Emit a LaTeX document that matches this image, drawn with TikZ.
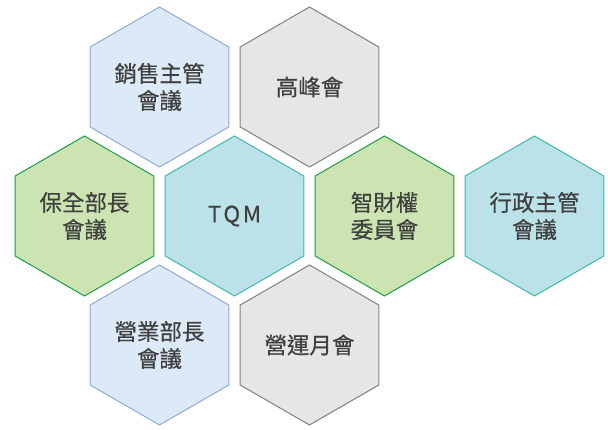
\documentclass[tikz,border=0pt]{standalone}
\usepackage{fontspec}
\setmainfont[FakeBold=0.6]{Noto Sans CJK TC}
\usetikzlibrary{shapes.geometric}

\definecolor{bluefill}{HTML}{DCE9F6}
\definecolor{blueline}{HTML}{8FAADC}
\definecolor{grayfill}{HTML}{E5E6E6}
\definecolor{grayline}{HTML}{808080}
\definecolor{greenfill}{HTML}{CCE4B2}
\definecolor{greenline}{HTML}{1E9B48}
\definecolor{tealfill}{HTML}{BBE2E8}
\definecolor{tealline}{HTML}{40B8AC}
\definecolor{textgray}{HTML}{404040}

\tikzset{
  hexa/.style={regular polygon, regular polygon sides=6, shape border rotate=30,
    minimum size=160pt, inner sep=0pt, outer sep=0pt, line width=1pt,
    align=center, text=textgray, font=\fontsize{22.5}{27}\selectfont},
  bluehex/.style={hexa, draw=blueline, fill=bluefill},
  grayhex/.style={hexa, draw=grayline, fill=grayfill},
  greenhex/.style={hexa, draw=greenline, fill=greenfill},
  tealhex/.style={hexa, draw=tealline, fill=tealfill}
}

\begin{document}
\begin{tikzpicture}[x=1pt, y=-1pt]
  \useasboundingbox (0,0) rectangle (608,430);

  \node[bluehex]  (sales)   at (159.5,87)  {銷售主管\\會議};
  \node[grayhex]  (summit)  at (309.5,87)  {高峰會};
  \node[greenhex] (security) at (84.5,216) {保全部長\\會議};
  \node[tealhex]  (tqm)     at (234.5,216) {\addfontfeature{LetterSpace=12}TQM};
  \node[greenhex] (ipr)     at (384.5,216) {智財權\\委員會};
  \node[tealhex]  (admin)   at (534.5,216) {行政主管\\會議};
  \node[bluehex]  (business) at (159.5,345) {營業部長\\會議};
  \node[grayhex]  (monthly) at (309.5,345) {營運月會};
\end{tikzpicture}
\end{document}
